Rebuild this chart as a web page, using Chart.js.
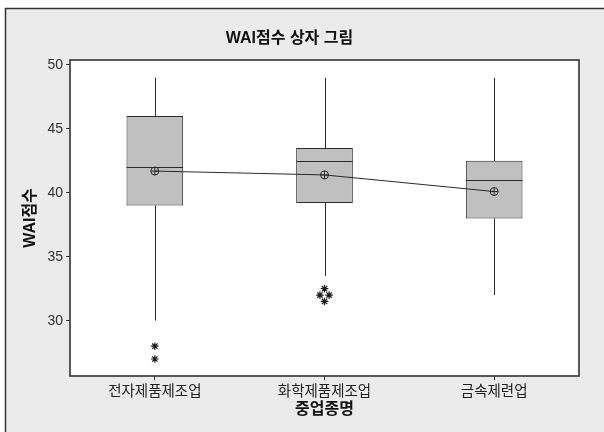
<!DOCTYPE html>
<html>
<head>
<meta charset="utf-8">
<script src="https://cdn.jsdelivr.net/npm/chart.js@4.4.0/dist/chart.umd.min.js"></script>
<style>
  html, body { margin: 0; padding: 0; background: #ffffff; }
  #wrap { width: 604px; height: 432px; }
</style>
</head>
<body>
<div id="wrap"><canvas id="c" width="604" height="432"></canvas></div>
<script>
// WAI scores by industry: box = Q1..Q3, whiskers, median, mean, outliers
const categories = ['전자제품제조업', '화학제품제조업', '금속제련업'];
const q1 = [39, 39.2, 38];
const q3 = [46, 43.5, 42.5];
const medians = [42, 42.5, 41];
const means = [41.7, 41.4, 40.1];
const whiskerLow = [30, 33.5, 32];
const whiskerHigh = [49, 49, 49];
// outliers: group index, value, small sideways spread for tied values
const outlierGroup = [0, 0, 1, 1, 1, 1];
const outlierValues = [28, 27, 32.5, 32, 32, 31.5];
const outlierSpread = [0, 0, 0, -0.027, 0.027, 0];
const yTicks = [30, 35, 40, 45, 50];

const KFONT = "'Liberation Sans', 'Noto Sans CJK KR', sans-serif";
const INK = '#2b2b2b';

const framePlugin = {
  id: 'frame',
  beforeDraw(chart) {
    const ctx = chart.ctx, a = chart.chartArea;
    ctx.save();
    ctx.fillStyle = '#ffffff';
    ctx.fillRect(0, 0, chart.width, chart.height);
    ctx.fillStyle = '#ebebeb';
    ctx.fillRect(5, 8, chart.width - 5, chart.height - 8);
    ctx.strokeStyle = '#333333';
    ctx.lineWidth = 1.5;
    ctx.beginPath();
    ctx.moveTo(5.5, chart.height);
    ctx.lineTo(5.5, 8.5);
    ctx.lineTo(chart.width, 8.5);
    ctx.stroke();
    ctx.fillStyle = '#ffffff';
    ctx.fillRect(a.left, a.top, a.right - a.left, a.bottom - a.top);
    ctx.restore();
  },
  beforeDatasetsDraw(chart) {
    const ctx = chart.ctx, a = chart.chartArea;
    ctx.save();
    ctx.strokeStyle = '#333333';
    ctx.lineWidth = 1.6;
    ctx.strokeRect(a.left, a.top, a.right - a.left, a.bottom - a.top);
    ctx.restore();
  }
};

// whiskers and median lines, drawn right after the boxes
const boxPartsPlugin = {
  id: 'boxParts',
  afterDatasetDraw(chart, args) {
    if (args.index !== 0) return;
    const ctx = chart.ctx, xs = chart.scales.x, ys = chart.scales.y;
    const bars = chart.getDatasetMeta(0).data;
    ctx.save();
    ctx.strokeStyle = INK;
    ctx.lineWidth = 1;
    const seg = (x1, y1, x2, y2) => { ctx.beginPath(); ctx.moveTo(x1, y1); ctx.lineTo(x2, y2); ctx.stroke(); };
    categories.forEach((_, i) => {
      const px = Math.round(xs.getPixelForValue(i)) + 0.5;
      seg(px, ys.getPixelForValue(q3[i]), px, ys.getPixelForValue(whiskerHigh[i]));
      seg(px, ys.getPixelForValue(q1[i]), px, ys.getPixelForValue(whiskerLow[i]));
      const b = bars[i];
      const half = b.width / 2;
      const my = Math.round(ys.getPixelForValue(medians[i])) + 0.5;
      seg(b.x - half, my, b.x + half, my);
    });
    ctx.restore();
  }
};

new Chart(document.getElementById('c'), {
  type: 'bar',
  data: {
    datasets: [
      {
        type: 'bar',
        data: categories.map((_, i) => ({ x: i, y: [q1[i], q3[i]] })),
        backgroundColor: '#c0c0c0',
        borderColor: INK,
        borderWidth: 1,
        borderSkipped: false,
        categoryPercentage: 1,
        barPercentage: 0.334,
        order: 4
      },
      {
        type: 'line',
        data: means.map((m, i) => ({ x: i, y: m })),
        borderColor: INK,
        borderWidth: 1,
        pointStyle: 'circle',
        pointRadius: 4,
        pointBackgroundColor: 'rgba(0,0,0,0)',
        pointBorderColor: INK,
        pointBorderWidth: 1,
        order: 2
      },
      {
        type: 'line',
        data: means.map((m, i) => ({ x: i, y: m })),
        showLine: false,
        pointStyle: 'cross',
        pointRadius: 4,
        pointBorderColor: INK,
        pointBorderWidth: 1,
        order: 1
      },
      {
        type: 'scatter',
        data: outlierValues.map((v, k) => ({ x: outlierGroup[k] + outlierSpread[k], y: v })),
        pointStyle: 'star',
        pointRadius: 3.8,
        pointBorderColor: '#1a1a1a',
        pointBorderWidth: 1.2,
        order: 1
      }
    ]
  },
  options: {
    responsive: false,
    animation: false,
    events: [],
    layout: { padding: { left: 0, right: 25, top: 0, bottom: 0 } },
    plugins: {
      legend: { display: false },
      tooltip: { enabled: false },
      title: {
        display: true,
        text: 'WAI점수 상자 그림',
        color: '#111111',
        font: { family: KFONT, size: 16, weight: 'bold' },
        padding: { top: 28.9, bottom: 11.9 }
      }
    },
    scales: {
      x: {
        type: 'linear',
        min: -0.5,
        max: 2.5,
        offset: false,
        afterBuildTicks(scale) { scale.ticks = categories.map((_, i) => ({ value: i })); },
        afterFit(scale) { scale.height = 56; },
        ticks: {
          autoSkip: false,
          maxRotation: 0,
          padding: 3.5,
          color: '#222222',
          font: { family: KFONT, size: 14.5 },
          callback: (v, i) => categories[i]
        },
        grid: { offset: false, drawOnChartArea: false, tickLength: 4, color: '#333333' },
        border: { display: false },
        title: {
          display: true,
          text: '중업종명',
          color: '#111111',
          font: { family: KFONT, size: 16, weight: 'bold' },
          padding: { top: 0, bottom: 12.4 }
        }
      },
      y: {
        min: 25.67,
        max: 50.39,
        afterBuildTicks(scale) { scale.ticks = yTicks.map(v => ({ value: v })); },
        afterFit(scale) { scale.width = 70; },
        ticks: {
          padding: 3,
          color: '#333333',
          font: { family: KFONT, size: 14 }
        },
        grid: { drawOnChartArea: false, tickLength: 4, color: '#333333' },
        border: { display: false },
        title: {
          display: true,
          text: 'WAI점수',
          color: '#111111',
          font: { family: KFONT, size: 16, weight: 'bold' },
          padding: { top: 21.4, bottom: 0 }
        }
      }
    }
  },
  plugins: [framePlugin, boxPartsPlugin]
});
</script>
</body>
</html>
